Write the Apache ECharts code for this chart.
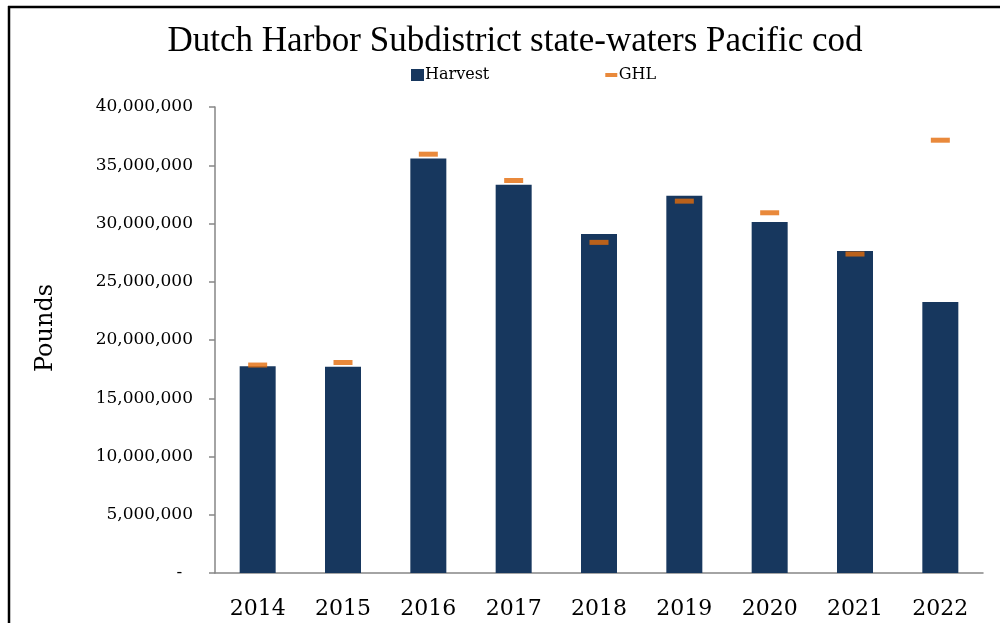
<!doctype html>
<html>
<head>
    <meta charset="utf-8">
    <title>Dutch Harbor Subdistrict state-waters Pacific cod</title>
    <script src="https://cdn.jsdelivr.net/npm/echarts@6/dist/echarts.min.js"></script>
    <style>
        html, body { margin: 0; padding: 0; background: #fff; }
        #Chart { width: 1000px; height: 623px; }
    </style>
</head>
<body>
    <div id="Chart"></div>
<script>
    // values, pounds
    var years = ['2014', '2015', '2016', '2017', '2018', '2019', '2020', '2021', '2022'];
    var harvest = [17750000, 17700000, 35570000, 33320000, 29100000, 32380000, 30120000, 27640000, 23270000];
    var ghl = [17850000, 18070000, 35950000, 33690000, 28380000, 31920000, 30920000, 27380000, 37150000];

    var serif = 'DejaVu Serif';

    function BuildChart() {
        var myChart = echarts.init(document.getElementById('Chart'));
        var option = {
            backgroundColor: '#ffffff',
            animation: false,
            title: {
                text: 'Dutch Harbor Subdistrict state-waters Pacific cod',
                left: 510,
                textAlign: 'center',
                top: 19,
                textStyle: {
                    fontFamily: 'Liberation Serif',
                    fontSize: 35,
                    fontWeight: 'normal',
                    color: '#000'
                }
            },
            legend: {
                left: 406,
                top: 62,
                itemGap: 116,
                itemWidth: 13,
                itemHeight: 12,
                textStyle: { fontFamily: serif, fontSize: 16, color: '#000', padding: [0, 0, 0, -4] },
                data: [
                    { name: 'Harvest', icon: 'rect' },
                    { name: 'GHL', icon: 'path://M0,0M12,12M0,4h12v4h-12z' }
                ]
            },
            grid: {
                left: 215,
                right: 17,
                top: 107,
                bottom: 50
            },
            xAxis: {
                type: 'category',
                data: years,
                axisLine: { lineStyle: { color: '#868686', width: 1.5 } },
                axisTick: { length: 9, lineStyle: { color: '#868686', width: 1.5 } },
                axisLabel: {
                    fontFamily: serif,
                    fontSize: 22,
                    color: '#000',
                    margin: 25
                }
            },
            yAxis: {
                type: 'value',
                min: 0,
                max: 40000000,
                interval: 5000000,
                name: 'Pounds',
                nameLocation: 'middle',
                nameGap: 157,
                nameRotate: 90,
                nameTextStyle: { fontFamily: serif, fontSize: 24, color: '#000', padding: [0, 0, 0, 24] },
                axisLine: { show: true, lineStyle: { color: '#868686', width: 1.5 } },
                axisTick: { show: true, length: 6, lineStyle: { color: '#868686', width: 1.5 } },
                splitLine: { show: false },
                axisLabel: {
                    fontFamily: serif,
                    fontSize: 17,
                    color: '#000',
                    margin: 22,
                    formatter: function (v) {
                        return v === 0 ? '-  ' : v.toLocaleString('en-US');
                    }
                }
            },
            series: [
                {
                    name: 'Harvest',
                    type: 'bar',
                    barWidth: 36,
                    itemStyle: { color: '#17375E' },
                    data: harvest
                },
                {
                    name: 'GHL',
                    type: 'scatter',
                    symbol: 'rect',
                    symbolSize: [19, 5],
                    itemStyle: { color: '#E46C0A' },
                    z: 5,
                    data: ghl
                }
            ],
            graphic: [
                { type: 'line', shape: { x1: 8, y1: 7, x2: 1000, y2: 7 }, style: { stroke: '#000', lineWidth: 2.5 } },
                { type: 'line', shape: { x1: 9, y1: 6, x2: 9, y2: 623 }, style: { stroke: '#000', lineWidth: 2.5 } }
            ]
        };
        myChart.setOption(option);
    }

    BuildChart();
</script>
</body>
</html>
